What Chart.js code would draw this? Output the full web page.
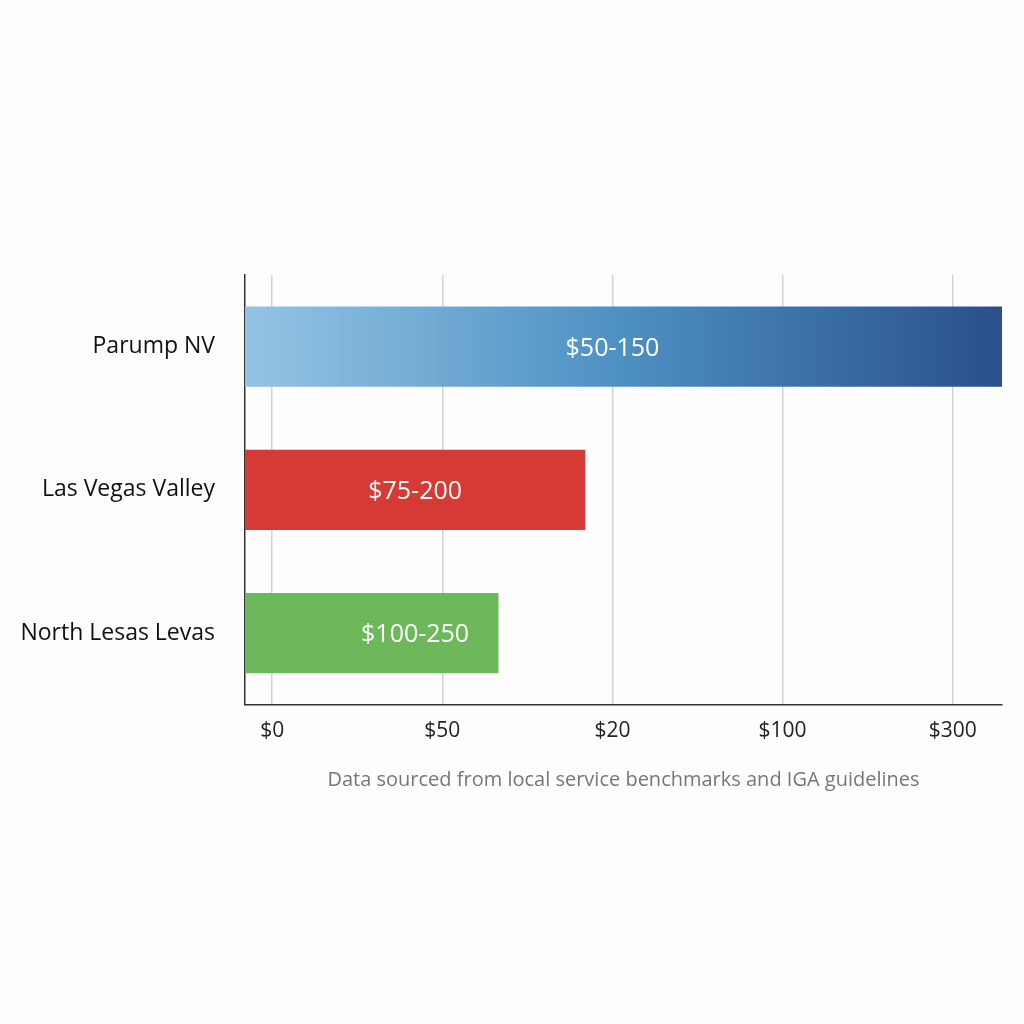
<!DOCTYPE html>
<html>
<head>
<meta charset="utf-8">
<script src="https://cdn.jsdelivr.net/npm/chart.js@4.4.0/dist/chart.umd.min.js"></script>
<style>
  body { margin: 0; background: #fdfdfd; }
  #wrap { position: absolute; left: 0; top: 0; width: 1024px; height: 1024px; }
</style>
</head>
<body>
<div id="wrap"><canvas id="chart" width="1024" height="1024"></canvas></div>
<script>
// categories and values (in tick-slot units: the axis ticks are evenly spaced)
var regions = ['Parump NV', 'Las Vegas Valley', 'North Lesas Levas'];
var barEnds = [4.29, 1.84, 1.33];
var barLabels = ['$50-150', '$75-200', '$100-250'];
var tickLabels = ['$0', '$50', '$20', '$100', '$300'];
var axisStart = -0.16;

var ctx = document.getElementById('chart').getContext('2d');

function barColor(c) {
    var i = c.dataIndex;
    if (i === 1) return '#d63a35';
    if (i === 2) return '#6cb85a';
    var area = c.chart.chartArea;
    if (!area) return '#4a8cc0';
    var g = c.chart.ctx.createLinearGradient(area.left, 0, area.right, 0);
    g.addColorStop(0, '#94c4e4');
    g.addColorStop(0.5, '#4d90c2');
    g.addColorStop(1, '#2a4f8c');
    return g;
}

// text inside each bar, centred on the Las Vegas bar middle (Parump at the $20 tick)
var insideLabels = {
    id: 'insideLabels',
    afterDatasetsDraw: function (chart) {
        var c = chart.ctx;
        var meta = chart.getDatasetMeta(0);
        var lvBar = meta.data[1];
        c.save();
        c.fillStyle = '#ffffff';
        c.font = '25px "Open Sans"';
        c.textAlign = 'center';
        c.textBaseline = 'middle';
        meta.data.forEach(function (bar, i) {
            var mid = (lvBar.x + lvBar.base) / 2;
            if (i === 0) mid = chart.scales.x.getPixelForValue(2);
            c.fillText(barLabels[i], mid, bar.y + 2);
        });
        c.restore();
    }
};

new Chart(ctx, {
    type: 'bar',
    data: {
        labels: regions,
        datasets: [{
            data: barEnds.map(function (v) { return [axisStart, v]; }),
            backgroundColor: barColor,
            borderWidth: 0,
            barPercentage: 0.56,
            categoryPercentage: 1
        }]
    },
    options: {
        indexAxis: 'y',
        responsive: false,
        animation: false,
        layout: { padding: { left: 0, right: 22, top: 275, bottom: 228 } },
        plugins: { legend: { display: false }, tooltip: { enabled: false } },
        scales: {
            x: {
                min: axisStart,
                max: 4.29,
                afterBuildTicks: function (s) {
                    s.ticks = tickLabels.map(function (t, i) { return { value: i }; });
                },
                ticks: {
                    callback: function (v) { return tickLabels[v]; },
                    color: '#222',
                    font: { family: 'Open Sans', size: 21 },
                    padding: 14
                },
                grid: { color: '#d4d4d4', lineWidth: 1.5, drawTicks: false },
                border: { display: true, color: '#333', width: 1.5 },
                title: {
                    display: true,
                    text: 'Data sourced from local service benchmarks and IGA guidelines',
                    color: '#777',
                    font: { family: 'Open Sans', size: 20 },
                    padding: { top: 10 }
                }
            },
            y: {
                afterFit: function (s) { s.width = 245; },
                ticks: {
                    color: '#111',
                    font: { family: 'Open Sans', size: 23 },
                    padding: 22
                },
                grid: { display: false },
                border: { display: true, color: '#333', width: 1.5 }
            }
        }
    },
    plugins: [insideLabels]
});
</script>
</body>
</html>
